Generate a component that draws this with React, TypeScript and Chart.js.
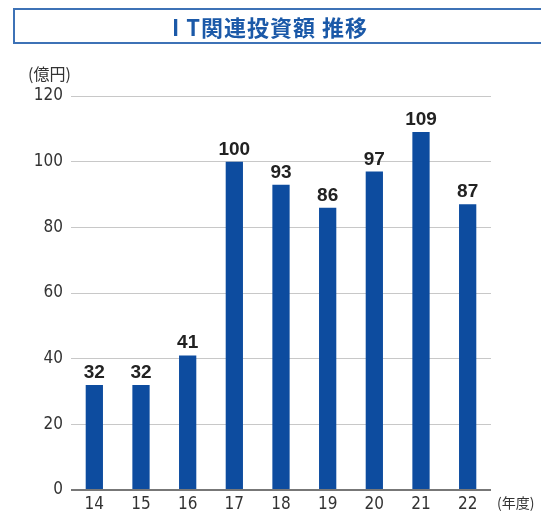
import React, { useEffect, useRef } from "react";
import { Chart, registerables } from "chart.js";

Chart.register(...registerables);

const categories = ["14", "15", "16", "17", "18", "19", "20", "21", "22"];
const values = [32, 32, 41, 100, 93, 86, 97, 109, 87];
const yTicks = [0, 20, 40, 60, 80, 100, 120];
const title = "I T関連投資額 推移";
const yUnit = "(億円)";
const xUnit = "(年度)";

const FONT = "Roboto, 'Liberation Sans', sans-serif";
const LABEL = "'Liberation Sans', Roboto, sans-serif";
const NARROW = "'Liberation Sans Narrow', 'DejaVu Sans Condensed', Roboto, sans-serif";

export default function App() {
  const ref = useRef<HTMLCanvasElement | null>(null);

  useEffect(() => {
    if (!ref.current) return;
    const labelPlugin = {
      id: "labels",
      afterDatasetsDraw(chart: any) {
        const ctx = chart.ctx;
        const meta = chart.getDatasetMeta(0);
        ctx.save();
        ctx.fillStyle = "#222";
        ctx.font = `bold 19px ${LABEL}`;
        ctx.textAlign = "center";
        ctx.textBaseline = "alphabetic";
        meta.data.forEach((bar: any, i: number) => {
          ctx.fillText(String(values[i]), bar.x, bar.y - 7);
        });
        ctx.restore();
      },
      afterDraw(chart: any) {
        const ctx = chart.ctx;
        const area = chart.chartArea;
        ctx.save();
        ctx.fillStyle = "#333";
        ctx.textBaseline = "middle";
        ctx.textAlign = "left";
        ctx.font = `16px 'Noto Sans CJK JP', ${FONT}`;
        ctx.fillText(yUnit, 28, area.top - 22);
        ctx.font = `14px 'Noto Sans CJK JP', ${FONT}`;
        ctx.fillText(xUnit, 497, area.bottom + 13);
        ctx.restore();
      },
    };

    const chart = new Chart(ref.current, {
      type: "bar",
      data: {
        labels: categories,
        datasets: [
          {
            data: values,
            backgroundColor: "#0d4c9f",
            barPercentage: 0.37,
            categoryPercentage: 1,
          },
        ],
      },
      options: {
        animation: false,
        responsive: false,
        layout: { padding: { top: 96, right: 50, left: 0, bottom: 0 } },
        plugins: { legend: { display: false }, tooltip: { enabled: false } },
        scales: {
          x: {
            grid: { display: false, drawTicks: false },
            border: { display: false },
            ticks: { color: "#333", font: { family: NARROW, size: 17 }, padding: 4 },
            afterFit: (s: any) => {
              s.height = 23;
            },
          },
          y: {
            min: 0,
            max: 120,
            afterBuildTicks: (s: any) => {
              s.ticks = yTicks.map((v) => ({ value: v }));
            },
            grid: {
              drawTicks: false,
              color: (c: any) => (c.tick && c.tick.value === 0 ? "#777" : "#c8c8c8"),
              lineWidth: (c: any) => (c.tick && c.tick.value === 0 ? 2 : 1),
            },
            border: { display: false },
            ticks: { color: "#333", font: { family: NARROW, size: 17 }, padding: 8 },
            afterFit: (s: any) => {
              s.width = 71;
            },
          },
        },
      },
      plugins: [labelPlugin],
    });
    return () => chart.destroy();
  }, []);

  return (
    <div style={{ position: "fixed", left: 0, top: 0, width: 541, height: 513, background: "#fff", overflow: "hidden" }}>
      <canvas ref={ref} width={541} height={513} style={{ position: "absolute", left: 0, top: 0 }} />
      <div
        style={{
          position: "absolute",
          left: 13,
          top: 8,
          width: 540,
          height: 32,
          border: "2px solid #3d72b6",
          color: "#1b59a8",
          fontFamily: "'Noto Sans CJK JP', sans-serif",
          fontWeight: 700,
          fontSize: 22,
          lineHeight: "32px",
          boxSizing: "content-box",
        }}
      >
        <div style={{ position: "absolute", left: 149, top: 0, width: 212, textAlign: "center", whiteSpace: "nowrap", letterSpacing: 1 }}>{title}</div>
      </div>
    </div>
  );
}
